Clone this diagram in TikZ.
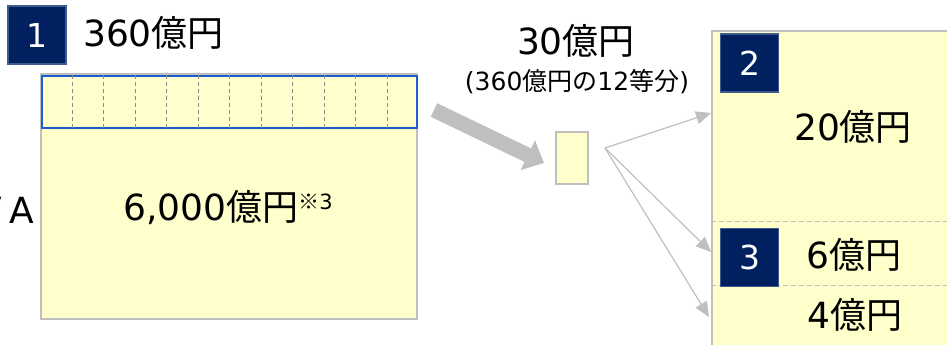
\documentclass[tikz,border=0pt]{standalone}
\usepackage{fontspec}
\setmainfont{DejaVu Sans}
\newfontfamily\jp{Noto Sans CJK JP}
\usetikzlibrary{arrows.meta,calc}
\definecolor{lightyellow}{HTML}{FFFFCC}
\definecolor{bordergray}{HTML}{BFBFBF}
\definecolor{navy}{HTML}{002060}
\definecolor{badgeedge}{HTML}{3F5A8C}
\definecolor{stripblue}{HTML}{1A5FD0}
\definecolor{dashgray}{HTML}{8C8C8C}
\begin{document}
\begin{tikzpicture}[x=1pt,y=-1pt,
  box/.style={draw=bordergray, line width=2pt, fill=lightyellow, inner sep=0pt, anchor=north west},
  badge/.style={draw=badgeedge, line width=1.5pt, fill=navy, text=white, minimum size=58pt, inner sep=0pt, font=\fontsize{33}{33}\selectfont},
  bigtxt/.style={font=\fontsize{36}{40}\selectfont, inner sep=0pt},
  subtxt/.style={font=\fontsize{25}{27}\selectfont, inner sep=0pt},
  dashline/.style={draw=dashgray, line width=0.8pt, dash pattern=on 4pt off 3pt},
  divline/.style={draw=bordergray, line width=1pt, dash pattern=on 5pt off 3pt},
  fatarrow/.style={draw=bordergray, line width=15pt, -{Triangle[length=18pt,width=32pt]}},
  thinarrow/.style={draw=bordergray, line width=1.2pt, -{Triangle[length=15pt,width=13pt]}}]
\useasboundingbox (0,0) rectangle (947,345);
\clip (0,0) rectangle (947,345);

% left group
\node[badge] (b1) at (37,35) {1};
\node[bigtxt, anchor=base west] (t360) at (83,47) {360{\jp 億円}};
\node[box, minimum width=376pt, minimum height=245pt] (big) at (40,73) {};
\node[draw=stripblue, line width=2.4pt, fill=lightyellow, inner sep=0pt, anchor=north west,
      minimum width=375pt, minimum height=52pt] (strip) at (41,75) {};
\foreach \i in {1,...,11}{
  \draw[dashline] ($(strip.north west)!\i/12!(strip.north east)$) -- ($(strip.south west)!\i/12!(strip.south east)$);
}
\node[bigtxt, anchor=base] (t6000) at (228,220) {6,000{\jp 億円}\raisebox{11pt}{\fontsize{21}{21}\selectfont{\jp ※}3}};
\node[bigtxt, anchor=base east] (tva) at (34,223) {V\kern7pt A};

% middle
\node[bigtxt, anchor=base] (t30) at (576,55) {30{\jp 億円}};
\node[subtxt, anchor=base] (tsub) at (577,90) {(360{\jp 億円の}12{\jp 等分})};
\node[box, minimum width=32pt, minimum height=52pt] (small) at (555,131) {};
\coordinate (fa) at (434,110);
\coordinate (fb) at (544,163);
\draw[fatarrow] (fa) -- (fb);

% right group
\node[box, minimum width=260pt, minimum height=340pt] (right) at (711,30) {};
\draw[divline] (711,221) -- (960,221);
\draw[divline] (711,285) -- (960,285);
\node[badge] (b2) at (749.5,63) {2};
\node[badge] (b3) at (749.5,257.5) {3};
\node[bigtxt, anchor=base] (t20) at (853,140) {20{\jp 億円}};
\node[bigtxt, anchor=base] (t6) at (854,268) {6{\jp 億円}};
\node[bigtxt, anchor=base] (t4) at (855,328) {4{\jp 億円}};

\coordinate (src) at (605,148);
\coordinate (e1) at (711,113);
\coordinate (e2) at (711,252);
\coordinate (e3) at (709,317);
\draw[thinarrow] (src) -- (e1);
\draw[thinarrow] (src) -- (e2);
\draw[thinarrow] (src) -- (e3);
\end{tikzpicture}
\end{document}
